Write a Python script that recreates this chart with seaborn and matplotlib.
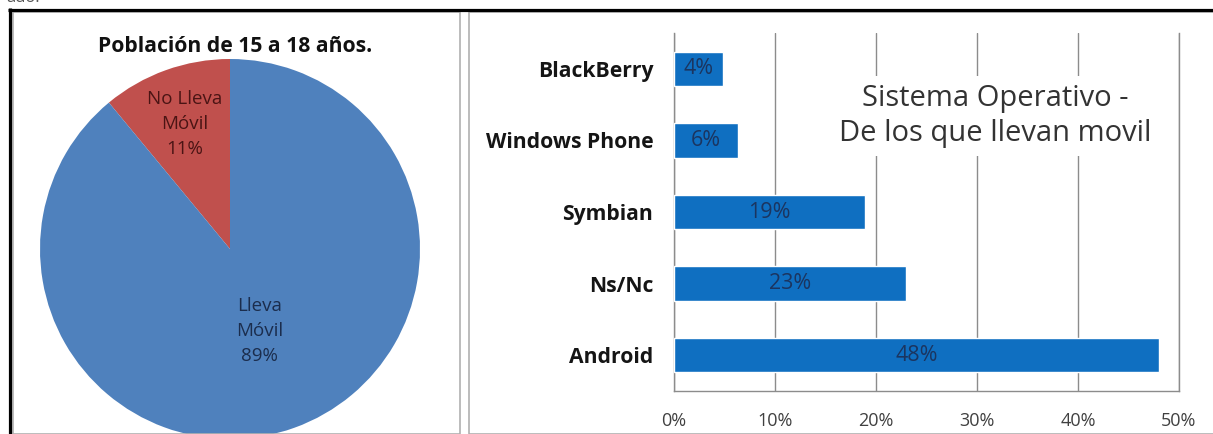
import matplotlib
matplotlib.use("Agg")
import matplotlib.pyplot as plt
import seaborn as sns
from matplotlib.lines import Line2D
from matplotlib.patches import Rectangle
from matplotlib.ticker import FixedLocator, FuncFormatter
import numpy as np

# ---------------- data ----------------
pie_title = "Población de 15 a 18 años."
pie_names = ["No Lleva\nMóvil", "Lleva\nMóvil"]
pie_values = [11, 89]
pie_colors = ["#C0504D", "#4F81BD"]
pie_text_colors = ["#4A1414", "#1B2D4D"]

os_categories = ["BlackBerry", "Windows Phone", "Symbian", "Ns/Nc", "Android"]
os_shares = [4.9, 6.3, 18.9, 23.0, 48.0]
os_labels = ["4%", "6%", "19%", "23%", "48%"]
x_ticks = [0, 10, 20, 30, 40, 50]
bar_title = "Sistema Operativo -\nDe los que llevan movil"

# ---------------- style ----------------
sns.set_theme(style="white")
plt.rcParams["font.family"] = ["Open Sans", "DejaVu Sans"]

W, H = 1213, 434
fig = plt.figure(figsize=(W / 100, H / 100), dpi=100)
fig.patch.set_facecolor("white")

def fx(x):
    return x / W

def fy(y):
    return 1 - y / H

GRAY = "#8C8C8C"
BAR = "#0F6FC1"

# ---------------- frames ----------------
fig.add_artist(Rectangle((fx(13), fy(434)), fx(460) - fx(13), fy(12) - fy(434),
                         transform=fig.transFigure, fill=False, edgecolor="#B0B0B0", lw=1.2))
fig.add_artist(Rectangle((fx(469), fy(434)), fx(1230) - fx(469), fy(12) - fy(434),
                         transform=fig.transFigure, fill=False, edgecolor="#B0B0B0", lw=1.2))
fig.add_artist(Line2D([fx(8), fx(1213)], [fy(9.5), fy(9.5)], transform=fig.transFigure,
                      color="black", lw=2.3, solid_capstyle="butt"))
fig.add_artist(Line2D([fx(9.5), fx(9.5)], [fy(8), fy(434)], transform=fig.transFigure,
                      color="black", lw=2.3, solid_capstyle="butt"))
fig.text(fx(6), fy(6), "ado.", fontsize=12, color="#555555", va="bottom", ha="left")

# ---------------- pie ----------------
cx, cy, r = 230, 249, 190
pax = fig.add_axes([fx(cx - r), fy(cy + r), 2 * r / W, 2 * r / H])
wedges, _ = pax.pie(pie_values, colors=pie_colors, startangle=90, counterclock=True,
                    wedgeprops=dict(linewidth=0))
pax.set_xlim(-1, 1)
pax.set_ylim(-1, 1)
pax.set_aspect("equal")
pax.axis("off")
label_dist = [0.70, 0.46]
for w, name, v, tc, d in zip(wedges, pie_names, pie_values, pie_text_colors, label_dist):
    ang = np.deg2rad((w.theta1 + w.theta2) / 2)
    pax.text(d * np.cos(ang), d * np.sin(ang), f"{name}\n{v}%", ha="center", va="center",
             fontsize=13.5, color=tc, linespacing=1.5)
fig.text(fx(235), fy(46), pie_title, ha="center", va="center", fontsize=15.2,
         fontweight="bold", color="#111111")

# ---------------- bars ----------------
ax = fig.add_axes([fx(674), fy(391), 505 / W, 358 / H])
sns.barplot(x=os_shares, y=os_categories, orient="h", color=BAR, saturation=1,
            width=0.48, ax=ax, zorder=3, errorbar=None)
ax.set_xlim(x_ticks[0], x_ticks[-1])
ax.set_ylim(len(os_categories) - 0.5, -0.5)
ax.xaxis.set_major_locator(FixedLocator(x_ticks))
ax.xaxis.set_major_formatter(FuncFormatter(lambda v, p: f"{int(v)}%"))
ax.grid(axis="x", color=GRAY, lw=1.0, zorder=0)
ax.grid(axis="y", visible=False)
ax.set_axisbelow(True)
ax.spines["top"].set_visible(False)
for s in ["left", "bottom", "right"]:
    ax.spines[s].set_color(GRAY)
    ax.spines[s].set_linewidth(1.0)
ax.tick_params(axis="x", direction="out", length=4, width=1, color=GRAY,
               labelsize=13, labelcolor="#404040", pad=11)
ax.tick_params(axis="y", which="major", length=0, pad=15, labelsize=15.2)
ax.yaxis.set_minor_locator(FixedLocator(np.arange(-0.5, len(os_categories), 1.0)))
ax.tick_params(axis="y", which="minor", direction="out", length=5, width=1, color=GRAY)
for t in ax.get_yticklabels():
    t.set_fontweight("bold")
    t.set_color("#151515")
ax.set_xlabel("")
ax.set_ylabel("")

for cont in ax.containers:
    ax.bar_label(cont, labels=os_labels, label_type="center", fontsize=15.5,
                 color="#1B3560", zorder=5,
                 bbox=dict(facecolor=BAR, edgecolor="none", boxstyle="square,pad=0.15"))

ax.text((995 - 674) / 505, 1 - (116 - 33) / 358, bar_title, transform=ax.transAxes,
        ha="center", va="center", fontsize=21, color="#333333", linespacing=1.3,
        zorder=6, bbox=dict(facecolor="white", edgecolor="none", boxstyle="square,pad=0.25"))

fig.savefig("out.png", dpi=100)
